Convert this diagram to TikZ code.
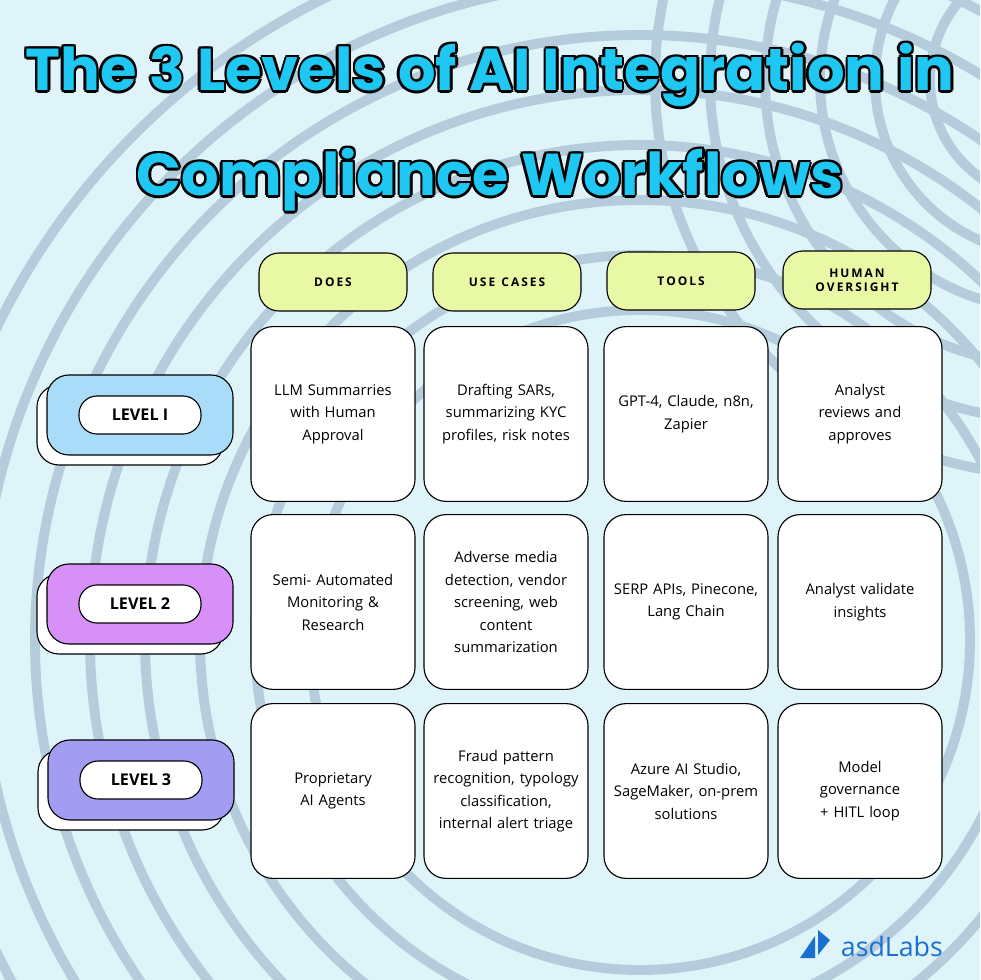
\documentclass[tikz,border=0pt]{standalone}
\usepackage{fontspec}
\setmainfont{Open Sans}
\newfontfamily\titlefont{Poppins}[UprightFont=* Bold]
\usetikzlibrary{positioning,calc}
\definecolor{bgcyan}{HTML}{DFF4F8}
\definecolor{stripe}{HTML}{B4CCDC}
\definecolor{titlecyan}{HTML}{1EC8F2}
\definecolor{headlime}{HTML}{E8F8A4}
\definecolor{lvlblue}{HTML}{A8DCF8}
\definecolor{lvlpink}{HTML}{D690F8}
\definecolor{lvlviolet}{HTML}{A29CF2}
\definecolor{logoblue}{HTML}{1A70D2}
\newcommand{\outlined}[4]{% name, x, y, text
  \foreach \dx/\dy in {-2.5/0,2.5/0,0/-2.5,0/2.5,-1.8/-1.8,1.8/1.8,-1.8/1.8,1.8/-1.8}
    \node[titletext,text=black] at ($(#2,#3)+(\dx,\dy)$) {#4};
  \node[titletext,text=titlecyan] (#1) at (#2,#3) {#4};}
\tikzset{
  titletext/.style={font=\titlefont\fontsize{42}{48}\selectfont, inner sep=0pt},
  headpill/.style={draw=black, line width=0.8pt, fill=headlime, rounded corners=5mm,
    minimum width=37mm, minimum height=14.5mm, align=center, inner sep=0pt,
    font=\bfseries\fontsize{8.5}{10}\selectfont},
  cell/.style={draw=black, line width=0.8pt, fill=white, rounded corners=5.5mm,
    minimum width=41mm, minimum height=43.7mm, text width=39mm, align=center, inner sep=0pt,
    font=\fontsize{10.5}{16}\selectfont},
  tab/.style={draw=black, line width=0.8pt, rounded corners=5.5mm,
    minimum width=46.5mm, minimum height=20mm},
  tabback/.style={tab, fill=white},
  tabpill/.style={draw=black, line width=0.8pt, fill=white, rounded corners=4.5mm,
    minimum width=30.5mm, minimum height=9.5mm, inner sep=0pt, font=\bfseries\fontsize{11.5}{14}\selectfont},
}
\begin{document}
\begin{tikzpicture}[x=0.25mm,y=-0.25mm]
  % background and stripes
  \fill[bgcyan] (0,0) rectangle (980,980);
  \begin{scope}
    \clip (0,0) rectangle (980,980);
    \foreach \r in {330,385,...,760}
      \draw[stripe, line width=7] (640,640) circle (\r);
    \foreach \r in {120,175,...,400}
      \draw[stripe, line width=7] (1050,80) circle (\r);
  \end{scope}

  % title
  \outlined{title1}{490}{75}{The 3 Levels of AI Integration in}
  \outlined{title2}{490}{180}{Compliance Workflows}

  % column heads
  \node[headpill] (hdoes) at (333,282) {D\,O\,E\,S};
  \node[headpill] (huse) at (507,282) {U\,S\,E\ \ C\,A\,S\,E\,S};
  \node[headpill] (htools) at (681,281) {T\,O\,O\,L\,S};
  \node[headpill] (hhuman) at (857,280) {H\,U\,M\,A\,N\\O\,V\,E\,R\,S\,I\,G\,H\,T};

  % level tabs
  \node[tabback] (lvlIback) at (130,425) {};
  \node[tab, fill=lvlblue] (lvlI) at (140,415) {};
  \node[tabpill] at (lvlI) {LEVEL I};
  \node[tabback] (lvlIIback) at (130,614) {};
  \node[tab, fill=lvlpink] (lvlII) at (140,604) {};
  \node[tabpill] at (lvlII) {LEVEL 2};
  \node[tabback] (lvlIIIback) at (131,790) {};
  \node[tab, fill=lvlviolet] (lvlIII) at (141,780) {};
  \node[tabpill] at (lvlIII) {LEVEL 3};

  % row 1
  \node[cell] (doesI) at (333,414) {LLM Summarries\\with Human\\Approval};
  \node[cell] (useI) at (506,414) {Drafting SARs,\\summarizing KYC\\profiles, risk notes};
  \node[cell] (toolsI) at (686,414) {GPT-4, Claude, n8n,\\Zapier};
  \node[cell] (humanI) at (860,414) {Analyst\\reviews and\\approves};
  % row 2
  \node[cell] (doesII) at (333,602) {Semi- Automated\\Monitoring \&\\Research};
  \node[cell] (useII) at (506,602) {Adverse media\\detection, vendor\\screening, web\\content\\summarization};
  \node[cell] (toolsII) at (686,602) {SERP APIs, Pinecone,\\Lang Chain};
  \node[cell] (humanII) at (860,602) {Analyst validate\\insights};
  % row 3
  \node[cell] (doesIII) at (333,791) {Proprietary\\AI Agents};
  \node[cell] (useIII) at (506,791) {Fraud pattern\\recognition, typology\\classification,\\internal alert triage};
  \node[cell] (toolsIII) at (686,791) {Azure AI Studio,\\SageMaker, on-prem\\solutions};
  \node[cell] (humanIII) at (860,791) {Model\\governance\\+ HITL loop};

  % logo
  \fill[logoblue] (800,958) -- (815,936) -- (815,958) -- cycle;
  \fill[logoblue] (818,930) -- (818,955) -- (830,940) -- cycle;
  \node[text=logoblue, font=\fontsize{19}{20}\selectfont, anchor=west] (logo) at (836,946) {asdLabs};
\end{tikzpicture}
\end{document}
